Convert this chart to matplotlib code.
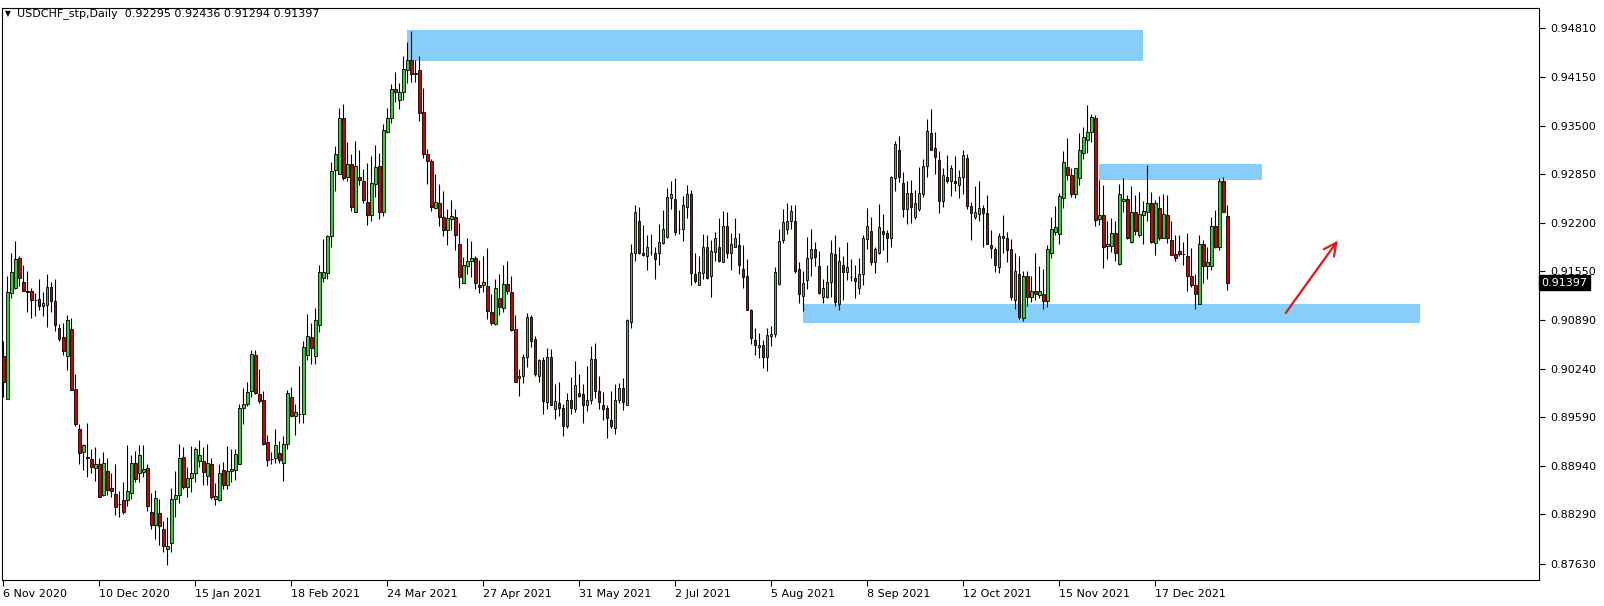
import matplotlib
matplotlib.use("Agg")
import matplotlib.pyplot as plt
import matplotlib.transforms as mtransforms
from matplotlib.patches import Rectangle
import numpy as np

symbol_text = "USDCHF_stp,Daily  0.92295 0.92436 0.91294 0.91397"
last_price = 0.91397

opens = [
    0.9041, 0.8984, 0.9126, 0.9132, 0.9173, 0.9140, 0.9129, 0.9128, 0.9116, 0.9118,
    0.9108, 0.9110, 0.9134, 0.9115, 0.9079, 0.9067, 0.9041, 0.9078, 0.8997, 0.8944,
    0.8912, 0.8906, 0.8903, 0.8891, 0.8897, 0.8855, 0.8887, 0.8865, 0.8856, 0.8843,
    0.8848, 0.8848, 0.8858, 0.8898, 0.8884, 0.8886, 0.8891, 0.8832, 0.8815, 0.8831,
    0.8810, 0.8782, 0.8790, 0.8850, 0.8855, 0.8906, 0.8866, 0.8878, 0.8885, 0.8900,
    0.8900, 0.8881, 0.8897, 0.8849, 0.8848, 0.8888, 0.8868, 0.8887, 0.8888, 0.8897,
    0.8971, 0.8977, 0.8994, 0.9043, 0.8991, 0.8982, 0.8926, 0.8903, 0.8904, 0.8911,
    0.8898, 0.8923, 0.8987, 0.8961, 0.8964, 0.8963, 0.9043, 0.9067, 0.9042, 0.9083,
    0.9146, 0.9152, 0.9202, 0.9291, 0.9286, 0.9360, 0.9281, 0.9299, 0.9234, 0.9282,
    0.9276, 0.9248, 0.9230, 0.9272, 0.9296, 0.9235, 0.9342, 0.9360, 0.9400, 0.9385,
    0.9396, 0.9425, 0.9438, 0.9421, 0.9425, 0.9368, 0.9312, 0.9303, 0.9240, 0.9247,
    0.9228, 0.9210, 0.9225, 0.9228, 0.9192, 0.9139, 0.9162, 0.9169, 0.9173, 0.9137,
    0.9137, 0.9135, 0.9101, 0.9084, 0.9119, 0.9106, 0.9138, 0.9127, 0.9077, 0.9012,
    0.9014, 0.9040, 0.9094, 0.9064, 0.9015, 0.9036, 0.8980, 0.9040, 0.8970, 0.8979,
    0.8971, 0.8948, 0.8982, 0.8970, 0.8992, 0.8990, 0.8975, 0.8982, 0.9038, 0.8994,
    0.8976, 0.8971, 0.8956, 0.8945, 0.8982, 0.8998, 0.8976, 0.9087, 0.9179, 0.9223,
    0.9180, 0.9175, 0.9181, 0.9180, 0.9180, 0.9193, 0.9201, 0.9253, 0.9252, 0.9212,
    0.9211, 0.9241, 0.9258, 0.9151, 0.9137, 0.9153, 0.9188, 0.9149, 0.9181, 0.9188,
    0.9168, 0.9216, 0.9180, 0.9188, 0.9190, 0.9158, 0.9148, 0.9103, 0.9063, 0.9053,
    0.9056, 0.9040, 0.9068, 0.9071, 0.9138, 0.9197, 0.9212, 0.9223, 0.9222, 0.9158,
    0.9122, 0.9143, 0.9173, 0.9185, 0.9162, 0.9120, 0.9120, 0.9140, 0.9178, 0.9111,
    0.9164, 0.9154, 0.9147, 0.9146, 0.9133, 0.9151, 0.9198, 0.9209, 0.9168, 0.9179,
    0.9209, 0.9206, 0.9200, 0.9280, 0.9318, 0.9274, 0.9239, 0.9260, 0.9228, 0.9238,
    0.9258, 0.9296, 0.9341, 0.9320, 0.9304, 0.9249, 0.9281, 0.9276, 0.9276, 0.9270,
    0.9281, 0.9307, 0.9242, 0.9228, 0.9232, 0.9240, 0.9233, 0.9190, 0.9185, 0.9161,
    0.9202, 0.9200, 0.9185, 0.9116, 0.9151, 0.9092, 0.9149, 0.9120, 0.9128, 0.9123,
    0.9125, 0.9115, 0.9180, 0.9207, 0.9205, 0.9253, 0.9295, 0.9284, 0.9258, 0.9280,
    0.9313, 0.9331, 0.9342, 0.9360, 0.9225, 0.9230, 0.9189, 0.9189, 0.9206, 0.9165,
    0.9249, 0.9252, 0.9194, 0.9235, 0.9204, 0.9231, 0.9234, 0.9247, 0.9193, 0.9240,
    0.9199, 0.9230, 0.9197, 0.9178, 0.9182, 0.9178, 0.9176, 0.9149, 0.9136, 0.9111,
    0.9192, 0.9162, 0.9162, 0.9216, 0.9187, 0.9276, 0.92295,
]

highs = [
    0.9061, 0.9148, 0.9180, 0.9195, 0.9175, 0.9163, 0.9156, 0.9133, 0.9126, 0.9144,
    0.9127, 0.9151, 0.9140, 0.9144, 0.9084, 0.9086, 0.9097, 0.9092, 0.9017, 0.8950,
    0.8924, 0.8951, 0.8917, 0.8919, 0.8904, 0.8913, 0.8904, 0.8884, 0.8896, 0.8861,
    0.8872, 0.8922, 0.8908, 0.8914, 0.8922, 0.8922, 0.8896, 0.8858, 0.8862, 0.8849,
    0.8820, 0.8826, 0.8864, 0.8887, 0.8923, 0.8920, 0.8893, 0.8921, 0.8919, 0.8929,
    0.8920, 0.8923, 0.8904, 0.8871, 0.8896, 0.8899, 0.8921, 0.8916, 0.8916, 0.8977,
    0.8999, 0.9006, 0.9049, 0.9049, 0.9024, 0.8994, 0.8935, 0.8913, 0.8944, 0.8928,
    0.8934, 0.8996, 0.9000, 0.8977, 0.9028, 0.9061, 0.9098, 0.9085, 0.9106, 0.9163,
    0.9198, 0.9204, 0.9302, 0.9323, 0.9374, 0.9379, 0.9328, 0.9312, 0.9329, 0.9317,
    0.9292, 0.9300, 0.9310, 0.9324, 0.9314, 0.9352, 0.9374, 0.9406, 0.9422, 0.9408,
    0.9443, 0.9463, 0.9477, 0.9438, 0.9443, 0.9401, 0.9319, 0.9306, 0.9286, 0.9272,
    0.9263, 0.9238, 0.9250, 0.9239, 0.9220, 0.9174, 0.9199, 0.9196, 0.9176, 0.9170,
    0.9175, 0.9186, 0.9124, 0.9145, 0.9151, 0.9164, 0.9169, 0.9149, 0.9097, 0.9024,
    0.9044, 0.9099, 0.9097, 0.9068, 0.9037, 0.9040, 0.9052, 0.9051, 0.9004, 0.9006,
    0.8977, 0.8992, 0.9013, 0.9035, 0.9017, 0.9004, 0.9028, 0.9055, 0.9059, 0.9015,
    0.8993, 0.8976, 0.8995, 0.9004, 0.9005, 0.9012, 0.9091, 0.9192, 0.9244, 0.9241,
    0.9217, 0.9204, 0.9205, 0.9188, 0.9219, 0.9237, 0.9266, 0.9276, 0.9280, 0.9237,
    0.9256, 0.9271, 0.9264, 0.9180, 0.9175, 0.9205, 0.9203, 0.9197, 0.9208, 0.9226,
    0.9236, 0.9235, 0.9206, 0.9226, 0.9206, 0.9190, 0.9172, 0.9104, 0.9079, 0.9072,
    0.9063, 0.9079, 0.9082, 0.9161, 0.9211, 0.9238, 0.9246, 0.9244, 0.9244, 0.9168,
    0.9156, 0.9201, 0.9211, 0.9194, 0.9182, 0.9144, 0.9163, 0.9197, 0.9204, 0.9188,
    0.9176, 0.9194, 0.9172, 0.9163, 0.9173, 0.9204, 0.9240, 0.9228, 0.9188, 0.9245,
    0.9232, 0.9210, 0.9283, 0.9329, 0.9337, 0.9288, 0.9276, 0.9278, 0.9264, 0.9295,
    0.9306, 0.9359, 0.9372, 0.9342, 0.9316, 0.9293, 0.9311, 0.9297, 0.9310, 0.9291,
    0.9318, 0.9312, 0.9248, 0.9269, 0.9276, 0.9244, 0.9257, 0.9210, 0.9188, 0.9206,
    0.9230, 0.9208, 0.9198, 0.9179, 0.9175, 0.9155, 0.9156, 0.9149, 0.9180, 0.9162,
    0.9158, 0.9190, 0.9228, 0.9242, 0.9260, 0.9316, 0.9334, 0.9294, 0.9294, 0.9340,
    0.9348, 0.9378, 0.9366, 0.9364, 0.9277, 0.9271, 0.9222, 0.9226, 0.9222, 0.9272,
    0.9280, 0.9257, 0.9269, 0.9257, 0.9261, 0.9249, 0.9298, 0.9261, 0.9250, 0.9256,
    0.9258, 0.9257, 0.9223, 0.9204, 0.9204, 0.9194, 0.9206, 0.9186, 0.9151, 0.9204,
    0.9197, 0.9187, 0.9228, 0.9237, 0.9280, 0.9282, 0.92436,
]

lows = [
    0.8987, 0.8984, 0.9119, 0.9131, 0.9135, 0.9128, 0.9101, 0.9092, 0.9095, 0.9103,
    0.9095, 0.9080, 0.9100, 0.9075, 0.9062, 0.9043, 0.9023, 0.8996, 0.8948, 0.8896,
    0.8888, 0.8879, 0.8884, 0.8874, 0.8852, 0.8853, 0.8855, 0.8852, 0.8828, 0.8826,
    0.8830, 0.8840, 0.8849, 0.8872, 0.8872, 0.8879, 0.8833, 0.8809, 0.8796, 0.8788,
    0.8779, 0.8761, 0.8778, 0.8826, 0.8844, 0.8863, 0.8852, 0.8859, 0.8872, 0.8893,
    0.8868, 0.8869, 0.8850, 0.8841, 0.8847, 0.8863, 0.8863, 0.8872, 0.8875, 0.8897,
    0.8950, 0.8974, 0.8987, 0.8991, 0.8979, 0.8922, 0.8894, 0.8896, 0.8898, 0.8898,
    0.8874, 0.8916, 0.8959, 0.8936, 0.8951, 0.8952, 0.9036, 0.9031, 0.9030, 0.9074,
    0.9140, 0.9144, 0.9188, 0.9262, 0.9286, 0.9278, 0.9276, 0.9236, 0.9234, 0.9271,
    0.9246, 0.9217, 0.9222, 0.9255, 0.9225, 0.9229, 0.9340, 0.9354, 0.9382, 0.9373,
    0.9384, 0.9408, 0.9409, 0.9409, 0.9357, 0.9307, 0.9272, 0.9236, 0.9239, 0.9216,
    0.9202, 0.9190, 0.9210, 0.9183, 0.9132, 0.9139, 0.9151, 0.9147, 0.9131, 0.9126,
    0.9127, 0.9091, 0.9083, 0.9083, 0.9096, 0.9100, 0.9125, 0.9075, 0.9007, 0.8988,
    0.9005, 0.9026, 0.9054, 0.9014, 0.9006, 0.8963, 0.8970, 0.8975, 0.8957, 0.8961,
    0.8934, 0.8945, 0.8964, 0.8966, 0.8987, 0.8951, 0.8968, 0.8977, 0.8985, 0.8970,
    0.8956, 0.8931, 0.8945, 0.8937, 0.8979, 0.8969, 0.8975, 0.9079, 0.9169, 0.9178,
    0.9176, 0.9157, 0.9177, 0.9145, 0.9164, 0.9192, 0.9200, 0.9239, 0.9204, 0.9205,
    0.9196, 0.9227, 0.9136, 0.9139, 0.9136, 0.9145, 0.9145, 0.9121, 0.9169, 0.9167,
    0.9167, 0.9173, 0.9157, 0.9187, 0.9151, 0.9132, 0.9103, 0.9057, 0.9043, 0.9039,
    0.9025, 0.9021, 0.9055, 0.9067, 0.9137, 0.9193, 0.9205, 0.9211, 0.9153, 0.9112,
    0.9102, 0.9131, 0.9148, 0.9162, 0.9125, 0.9113, 0.9119, 0.9120, 0.9109, 0.9103,
    0.9117, 0.9143, 0.9142, 0.9119, 0.9124, 0.9136, 0.9185, 0.9164, 0.9153, 0.9178,
    0.9184, 0.9167, 0.9188, 0.9263, 0.9275, 0.9228, 0.9219, 0.9220, 0.9225, 0.9236,
    0.9254, 0.9282, 0.9317, 0.9285, 0.9233, 0.9241, 0.9274, 0.9256, 0.9263, 0.9253,
    0.9259, 0.9239, 0.9197, 0.9225, 0.9223, 0.9188, 0.9191, 0.9173, 0.9154, 0.9153,
    0.9180, 0.9168, 0.9117, 0.9105, 0.9091, 0.9088, 0.9108, 0.9114, 0.9116, 0.9119,
    0.9105, 0.9107, 0.9173, 0.9203, 0.9191, 0.9240, 0.9278, 0.9255, 0.9253, 0.9270,
    0.9305, 0.9314, 0.9328, 0.9216, 0.9217, 0.9160, 0.9172, 0.9181, 0.9169, 0.9163,
    0.9235, 0.9198, 0.9193, 0.9203, 0.9201, 0.9192, 0.9223, 0.9193, 0.9177, 0.9197,
    0.9199, 0.9193, 0.9177, 0.9169, 0.9175, 0.9163, 0.9129, 0.9134, 0.9105, 0.9111,
    0.9139, 0.9144, 0.9157, 0.9186, 0.9184, 0.9235, 0.91294,
]

closes = [
    0.9006, 0.9127, 0.9154, 0.9171, 0.9146, 0.9129, 0.9127, 0.9116, 0.9116, 0.9108,
    0.9113, 0.9134, 0.9115, 0.9083, 0.9064, 0.9048, 0.9090, 0.8996, 0.8950, 0.8911,
    0.8922, 0.8904, 0.8892, 0.8897, 0.8852, 0.8898, 0.8862, 0.8860, 0.8839, 0.8843,
    0.8832, 0.8861, 0.8898, 0.8877, 0.8909, 0.8890, 0.8840, 0.8815, 0.8851, 0.8814,
    0.8786, 0.8786, 0.8849, 0.8855, 0.8905, 0.8866, 0.8878, 0.8885, 0.8917, 0.8908,
    0.8886, 0.8898, 0.8852, 0.8854, 0.8885, 0.8868, 0.8887, 0.8890, 0.8910, 0.8971,
    0.8977, 0.8993, 0.9044, 0.8992, 0.8981, 0.8924, 0.8902, 0.8903, 0.8922, 0.8902,
    0.8923, 0.8992, 0.8961, 0.8966, 0.8964, 0.9054, 0.9068, 0.9052, 0.9089, 0.9154,
    0.9154, 0.9202, 0.9290, 0.9312, 0.9360, 0.9280, 0.9299, 0.9241, 0.9296, 0.9277,
    0.9250, 0.9230, 0.9274, 0.9295, 0.9235, 0.9344, 0.9360, 0.9400, 0.9395, 0.9396,
    0.9426, 0.9438, 0.9420, 0.9419, 0.9367, 0.9312, 0.9303, 0.9241, 0.9248, 0.9228,
    0.9210, 0.9226, 0.9229, 0.9204, 0.9147, 0.9163, 0.9169, 0.9173, 0.9139, 0.9134,
    0.9140, 0.9102, 0.9086, 0.9133, 0.9107, 0.9138, 0.9128, 0.9076, 0.9007, 0.9014,
    0.9040, 0.9094, 0.9062, 0.9017, 0.9036, 0.8981, 0.9040, 0.8976, 0.8981, 0.8971,
    0.8948, 0.8983, 0.8971, 0.9002, 0.8988, 0.8976, 0.8982, 0.9038, 0.8994, 0.8980,
    0.8970, 0.8958, 0.8947, 0.8982, 0.8998, 0.8980, 0.9090, 0.9180, 0.9235, 0.9180,
    0.9177, 0.9187, 0.9181, 0.9171, 0.9194, 0.9211, 0.9254, 0.9259, 0.9207, 0.9212,
    0.9244, 0.9258, 0.9153, 0.9142, 0.9154, 0.9188, 0.9146, 0.9182, 0.9199, 0.9169,
    0.9216, 0.9180, 0.9192, 0.9199, 0.9163, 0.9147, 0.9103, 0.9065, 0.9056, 0.9056,
    0.9040, 0.9070, 0.9071, 0.9154, 0.9196, 0.9221, 0.9223, 0.9236, 0.9156, 0.9125,
    0.9139, 0.9173, 0.9185, 0.9174, 0.9126, 0.9132, 0.9140, 0.9180, 0.9114, 0.9169,
    0.9154, 0.9161, 0.9147, 0.9142, 0.9151, 0.9199, 0.9216, 0.9168, 0.9185, 0.9214,
    0.9205, 0.9200, 0.9281, 0.9326, 0.9282, 0.9239, 0.9260, 0.9241, 0.9247, 0.9260,
    0.9296, 0.9343, 0.9318, 0.9308, 0.9249, 0.9284, 0.9276, 0.9294, 0.9273, 0.9281,
    0.9311, 0.9243, 0.9233, 0.9235, 0.9240, 0.9233, 0.9192, 0.9186, 0.9163, 0.9202,
    0.9199, 0.9184, 0.9120, 0.9156, 0.9094, 0.9149, 0.9120, 0.9128, 0.9124, 0.9128,
    0.9115, 0.9185, 0.9211, 0.9215, 0.9256, 0.9302, 0.9284, 0.9258, 0.9293, 0.9318,
    0.9335, 0.9342, 0.9362, 0.9224, 0.9230, 0.9187, 0.9192, 0.9206, 0.9180, 0.9259,
    0.9252, 0.9199, 0.9235, 0.9209, 0.9232, 0.9236, 0.9247, 0.9194, 0.9246, 0.9199,
    0.9232, 0.9199, 0.9177, 0.9173, 0.9178, 0.9178, 0.9149, 0.9136, 0.9125, 0.9192,
    0.9162, 0.9167, 0.9216, 0.9187, 0.9276, 0.9235, 0.91397,
]

date_labels = ["6 Nov 2020", "10 Dec 2020", "15 Jan 2021", "18 Feb 2021", "24 Mar 2021",
               "27 Apr 2021", "31 May 2021", "2 Jul 2021", "5 Aug 2021", "8 Sep 2021",
               "12 Oct 2021", "15 Nov 2021", "17 Dec 2021"]
date_bar_index = [0, 24, 48, 72, 96, 120, 144, 168, 192, 216, 240, 264, 288]

price_ticks = [0.94810, 0.94150, 0.93500, 0.92850, 0.92200, 0.91550,
               0.90890, 0.90240, 0.89590, 0.88940, 0.88290, 0.87630]

# zones drawn on the chart (bar index span, price span)
zone_top = (101.0, 284.8, 0.9437, 0.9478)
zone_mid = (273.9, 314.7, 0.9277, 0.9299)
zone_low = (200.0, 354.2, 0.9086, 0.9111)
arrow_from = (320.2, 0.9096)
arrow_to = (334.0, 0.9199)

W, H = 1604, 606
fig = plt.figure(figsize=(W / 100, H / 100), dpi=100)
fig.patch.set_facecolor("white")
ax = fig.add_axes([2 / W, 1 - 580 / H, (1539 - 2) / W, (580 - 8) / H])

n = min(len(opens), len(highs), len(lows), len(closes))
o = np.array(opens[:n]); h = np.array(highs[:n]); l = np.array(lows[:n]); c = np.array(closes[:n])
x = np.arange(n)

zone_color = "#87CEFA"
for (x0, x1, y0, y1) in (zone_top, zone_mid, zone_low):
    ax.add_patch(Rectangle((x0, y0), x1 - x0, y1 - y0, facecolor=zone_color,
                           edgecolor="none", zorder=1))

ax.vlines(x, l, h, color="black", linewidth=0.8, zorder=2)
up = c >= o
body_bottom = np.minimum(o, c)
body_h = np.maximum(np.abs(c - o), 0.00001)
colors = np.where(up, "#2CD42C", "#D00000")
ax.bar(x, body_h, bottom=body_bottom, width=0.6, color=colors,
       edgecolor="black", linewidth=0.6, zorder=3)

ax.annotate("", xy=arrow_to, xytext=arrow_from,
            arrowprops=dict(arrowstyle="->,head_length=0.9,head_width=0.45",
                            color="#E8141B", lw=1.6), zorder=4)

ax.set_xlim((2 - 3.3) / 4, (1539 - 3.3) / 4)
ax.set_ylim(0.8741, 0.9508)

ax.yaxis.tick_right()
ax.set_yticks(price_ticks)
ax.set_yticklabels([f"{v:.5f}" for v in price_ticks])
ax.tick_params(axis="y", direction="out", length=4, width=0.8, pad=4,
               labelsize=8, labelcolor="#000000")
ax.set_xticks(date_bar_index)
ax.set_xticklabels(date_labels)
ax.tick_params(axis="x", direction="out", length=4, width=0.8, pad=2.5, labelsize=8)
for lab in ax.get_xticklabels():
    lab.set_horizontalalignment("left")
for sp in ax.spines.values():
    sp.set_linewidth(0.8)
    sp.set_color("black")

trans = mtransforms.blended_transform_factory(ax.transAxes, ax.transData)
ax.text(1.0015, last_price, f"{last_price:.5f}", transform=trans, color="white",
        fontsize=8, va="center", ha="left", zorder=10, clip_on=False,
        bbox=dict(boxstyle="square,pad=0.2", facecolor="black", edgecolor="black"))

fig.text(5 / W, 1 - 13.5 / H, "\u25BC", fontsize=5.5, va="center", ha="left")
fig.text(17 / W, 1 - 13.5 / H, symbol_text, fontsize=8, va="center", ha="left")

fig.savefig("out.png", dpi=100, facecolor="white")
